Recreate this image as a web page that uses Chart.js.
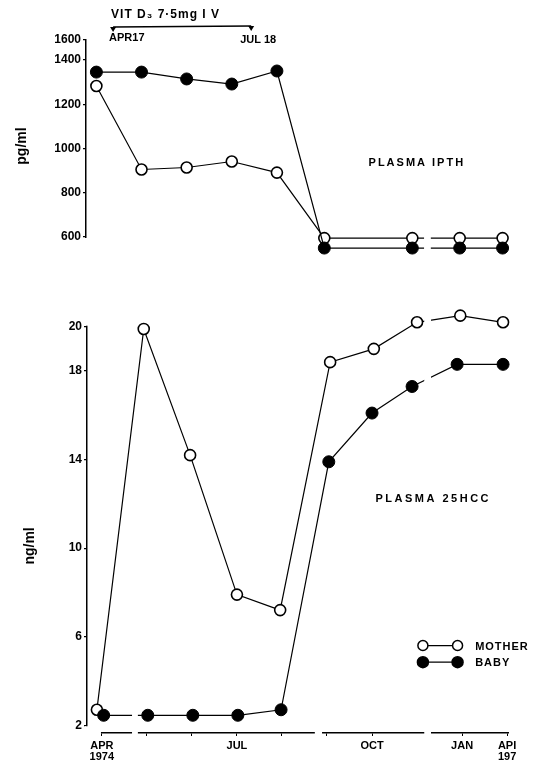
<!DOCTYPE html>
<html>
<head>
<meta charset="utf-8">
<script src="https://cdn.jsdelivr.net/npm/chart.js@4/dist/chart.umd.min.js"></script>
<style>
html,body{margin:0;padding:0;background:#fff;}
#top{position:absolute;left:0;top:0;width:535px;height:270px;}
#bot{position:absolute;left:0;top:280px;width:535px;height:483px;}
</style>
</head>
<body>
<div id="top"><canvas id="pth"></canvas></div>
<div id="bot"><canvas id="hcc"></canvas></div>
<script>
/* Plasma iPTH and 25HCC, mother vs baby, Apr 1974 - Apr 1975 */

// x axis in months from APR 1974 (axis is broken between OCT and JAN)
const X_MIN = -0.33, X_MAX = 9.02;
const X_TICKS = [0, 1, 2, 3, 4, 5, 6, 8, 9];
const X_TICK_LABELS = [["APR", "1974"], "", "", "JUL", "", "", "OCT", "JAN", ["API", "197"]];

// upper panel : plasma iPTH (pg/ml)
const PTH_X      = [-0.1, 0.9, 1.9, 2.9, 3.9, 4.95, 6.9, 7.95, 8.9];
const PTH_MOTHER = [1282, 905, 914, 941, 891, 595, 595, 595, 595];
const PTH_BABY   = [1345, 1345, 1314, 1291, 1350, 550, 550, 550, 550];
const PTH_TICKS = [600, 800, 1000, 1200, 1400];
const PTH_MIN = 520, PTH_TOP = 1490, PTH_TOP_LABEL = "1600";

// lower panel : plasma 25HCC (ng/ml)
const HCC_X_MOTHER = [-0.11, 0.93, 1.96, 3.0, 3.96, 5.07, 6.04, 7.0, 7.96, 8.91];
const HCC_MOTHER   = [2.7, 19.9, 14.2, 7.9, 7.2, 18.4, 19.0, 20.2, 20.5, 20.2];
const HCC_X_BABY   = [0.04, 1.02, 2.02, 3.02, 3.98, 5.04, 6.0, 6.89, 7.89, 8.91];
const HCC_BABY     = [2.45, 2.45, 2.45, 2.45, 2.7, 13.9, 16.1, 17.3, 18.3, 18.3];
const HCC_TICKS = [2, 6, 10, 14, 18, 20];
const HCC_MIN = 1.65, HCC_MAX = 20.8;

// vit D treatment bracket
const DOSE_SPAN = [0.27, 3.33];
const DOSE_TEXT = "VIT D\u2083 7\u00b75mg I V";
const DOSE_LABELS = ["APR17", "JUL 18"];

// x axis breaks (upTo = highest value covered, null = whole column)
const BREAKS_PTH = [{from: 7.16, to: 7.31, upTo: null}];
const BREAKS_HCC = [
  {from: -0.3, to: -0.02, upTo: 1.9},
  {from: 0.67, to: 0.8, upTo: 3.5},
  {from: 4.73, to: 4.89, upTo: 1.9},
  {from: 7.16, to: 7.31, upTo: null}
];
// parts of the y axis line that are not drawn
const YCUT_PTH = [[PTH_MIN, 600]];
const YCUT_HCC = [[HCC_MIN, 2], [20, HCC_MAX]];

const FONT = "Liberation Sans";
const pts = (xs, ys) => xs.map((x, i) => ({x, y: ys[i]}));

const motherStyle = {
  label: "MOTHER", borderColor: "#000", borderWidth: 1.2, backgroundColor: "#fff",
  pointBackgroundColor: "#fff", pointBorderColor: "#000", pointBorderWidth: 1.6,
  pointRadius: 5.5, tension: 0, clip: false
};
const babyStyle = {
  label: "BABY", borderColor: "#000", borderWidth: 1.2, backgroundColor: "#000",
  pointBackgroundColor: "#000", pointBorderColor: "#000", pointBorderWidth: 1,
  pointRadius: 6, tension: 0, clip: false
};

function breakPlugin(list, ycut){
  return {
    id: "breaks",
    afterDraw(chart){
      const {ctx, chartArea, scales:{x, y}} = chart;
      ctx.save();
      ctx.fillStyle = "#fff";
      list.forEach(b => {
        const x1 = x.getPixelForValue(b.from), x2 = x.getPixelForValue(b.to);
        const yTop = b.upTo != null ? y.getPixelForValue(b.upTo) : chartArea.top - 8;
        ctx.fillRect(x1, yTop, x2 - x1, chartArea.bottom + 5 - yTop);
      });
      ycut.forEach(([a, b]) => {
        const y1 = y.getPixelForValue(b), y2 = y.getPixelForValue(a);
        const top = b === y.max ? y1 - 2 : y1 + 1;
        const bot = a === y.min ? y2 + 2 : y2 - 1;
        ctx.fillRect(chartArea.left - 2, top, 4, bot - top);
      });
      ctx.restore();
    }
  };
}

function yTitle(chart, text, px, value){
  const {ctx, scales:{y}} = chart;
  ctx.save();
  ctx.translate(px, y.getPixelForValue(value));
  ctx.rotate(-Math.PI / 2);
  ctx.fillStyle = "#000";
  ctx.font = `bold 14px "${FONT}"`;
  ctx.textAlign = "center"; ctx.textBaseline = "middle";
  ctx.fillText(text, 0, 0);
  ctx.restore();
}

const yAxis = (min, max, ticks, width, fontSize, topLabel) => ({
  type: "linear", min, max,
  afterBuildTicks: s => { s.ticks = ticks.map(v => ({value: v})); },
  afterFit: s => { s.width = width; s.paddingTop = 0; s.paddingBottom = 0; },
  border: {display: true, color: "#000", width: 1.5},
  grid: {drawOnChartArea: false, drawTicks: true, tickLength: 3, color: "#000", lineWidth: 1.2},
  ticks: {
    color: "#000", padding: 2, font: {family: FONT, size: fontSize, weight: "bold"},
    callback: v => (topLabel && v === max) ? topLabel : v
  }
});

const pthNotes = {
  id: "pthNotes",
  afterDraw(chart){
    const {ctx, chartArea, scales:{x, y}} = chart;
    const x1 = x.getPixelForValue(DOSE_SPAN[0]), x2 = x.getPixelForValue(DOSE_SPAN[1]);
    const y0 = chartArea.top - 13;
    ctx.save();
    ctx.strokeStyle = "#000"; ctx.fillStyle = "#000"; ctx.lineWidth = 1.6;
    ctx.beginPath(); ctx.moveTo(x1, y0); ctx.lineTo(x2, y0 - 1); ctx.stroke();
    [[x1, y0], [x2, y0 - 1]].forEach(([px, py]) => {
      ctx.beginPath(); ctx.moveTo(px - 3, py); ctx.lineTo(px + 3, py); ctx.lineTo(px, py + 5); ctx.closePath(); ctx.fill();
    });
    ctx.font = `bold 12px "${FONT}"`;
    ctx.letterSpacing = "1px";
    ctx.textBaseline = "middle";
    ctx.textAlign = "left";
    ctx.fillText(DOSE_TEXT, x1 - 2, y0 - 12);
    ctx.font = `bold 11px "${FONT}"`;
    ctx.letterSpacing = "0px";
    ctx.fillText(DOSE_LABELS[0], x1 - 4, y0 + 11);
    ctx.textAlign = "center";
    ctx.fillText(DOSE_LABELS[1], x2 + 7, y0 + 13);
    ctx.letterSpacing = "2px";
    ctx.fillText("PLASMA IPTH", x.getPixelForValue(7.0), y.getPixelForValue(935));
    ctx.restore();
    yTitle(chart, "pg/ml", 22, 1011);
  }
};

const hccNotes = {
  id: "hccNotes",
  afterDraw(chart){
    const {ctx, scales:{x, y}} = chart;
    ctx.save();
    ctx.fillStyle = "#000"; ctx.strokeStyle = "#000";
    ctx.font = `bold 11px "${FONT}"`;
    ctx.textBaseline = "middle";
    ctx.textAlign = "center";
    ctx.letterSpacing = "2.5px";
    ctx.fillText("PLASMA 25HCC", x.getPixelForValue(7.36), y.getPixelForValue(12.2));
    // legend : mother then baby
    const rows = [[chart.data.datasets[1], 5.6], [chart.data.datasets[0], 4.85]];
    const c1 = x.getPixelForValue(7.13), c2 = x.getPixelForValue(7.9), tx = x.getPixelForValue(8.29);
    ctx.textAlign = "left";
    ctx.letterSpacing = "1px";
    rows.forEach(([ds, v]) => {
      const py = y.getPixelForValue(v);
      ctx.lineWidth = 1.2;
      ctx.beginPath(); ctx.moveTo(c1, py); ctx.lineTo(c2, py); ctx.stroke();
      [c1, c2].forEach(cx => {
        ctx.beginPath(); ctx.arc(cx, py, ds.pointRadius - 0.5, 0, Math.PI * 2);
        ctx.fillStyle = ds.pointBackgroundColor; ctx.fill();
        ctx.lineWidth = 1.5; ctx.stroke();
      });
      ctx.fillStyle = "#000";
      ctx.fillText(ds.label, tx, py + 1);
    });
    ctx.restore();
    yTitle(chart, "ng/ml", 30, 10.1);
  }
};

new Chart(document.getElementById("pth"), {
  type: "line",
  data: {datasets: [
    {...babyStyle, data: pts(PTH_X, PTH_BABY)},
    {...motherStyle, data: pts(PTH_X, PTH_MOTHER)}
  ]},
  options: {
    responsive: true, maintainAspectRatio: false, animation: false,
    layout: {padding: {top: 40, right: 27, bottom: 15.3, left: 0}},
    plugins: {legend: {display: false}, tooltip: {enabled: false}},
    scales: {
      x: {type: "linear", display: false, min: X_MIN, max: X_MAX},
      y: yAxis(PTH_MIN, PTH_TOP, [...PTH_TICKS, PTH_TOP], 86, 12, PTH_TOP_LABEL)
    }
  },
  plugins: [breakPlugin(BREAKS_PTH, YCUT_PTH), pthNotes]
});

new Chart(document.getElementById("hcc"), {
  type: "line",
  data: {datasets: [
    {...babyStyle, data: pts(HCC_X_BABY, HCC_BABY)},
    {...motherStyle, data: pts(HCC_X_MOTHER, HCC_MOTHER)}
  ]},
  options: {
    responsive: true, maintainAspectRatio: false, animation: false,
    layout: {padding: {top: 29, right: 27, bottom: 0, left: 0}},
    plugins: {legend: {display: false}, tooltip: {enabled: false}},
    scales: {
      x: {
        type: "linear", min: X_MIN, max: X_MAX,
        afterBuildTicks: s => { s.ticks = X_TICKS.map(v => ({value: v})); },
        afterFit: s => { s.height = 30; s.paddingLeft = 0; s.paddingRight = 0; },
        border: {display: true, color: "#000", width: 1.5},
        grid: {drawOnChartArea: false, drawTicks: true, tickLength: 3, color: "#000"},
        ticks: {
          autoSkip: false, maxRotation: 0, color: "#000", padding: 4,
          font: {family: FONT, size: 11, weight: "bold", lineHeight: 1.0},
          callback: v => X_TICK_LABELS[X_TICKS.indexOf(v)]
        }
      },
      y: yAxis(HCC_MIN, HCC_MAX, HCC_TICKS, 87, 12, null)
    }
  },
  plugins: [breakPlugin(BREAKS_HCC, YCUT_HCC), hccNotes]
});
</script>
</body>
</html>
